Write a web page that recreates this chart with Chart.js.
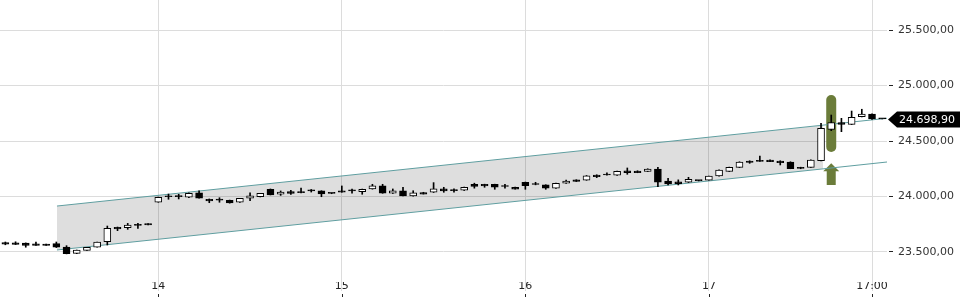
<!DOCTYPE html>
<html>
<head>
<meta charset="utf-8">
<script src="https://cdn.jsdelivr.net/npm/chart.js@4"></script>
<style>
  html, body { margin: 0; padding: 0; background: #fff; }
  #wrap { width: 960px; height: 300px; }
</style>
</head>
<body>
<div id="wrap"><canvas id="chart"></canvas></div>
<script>
// hourly candles, index 0 = leftmost candle
const opens = [
  23585, 23583, 23580, 23574, 23572, 23575, 23545, 23488, 23515, 23543,
  23593, 23722, 23720, 23740, 23757, 23948, 23998, 23999, 23993, 24034,
  23975, 23968, 23966, 23948, 23984, 23998, 24065, 24020, 24045, 24035,
  24050, 24050, 24028, 24050, 24050, 24043, 24068, 24097, 24029, 24050,
  24005, 24036, 24038, 24068, 24053, 24056, 24110, 24110, 24110, 24090,
  24083, 24128, 24108, 24104, 24074, 24119, 24150, 24148, 24194, 24194,
  24193, 24232, 24230, 24227, 24248, 24140, 24133, 24128, 24143, 24148,
  24185, 24227, 24263, 24320, 24326, 24328, 24320, 24311, 24262, 24263,
  24322, 24605, 24665, 24650, 24719, 24743, 24698.9
];
const highs = [
  23590, 23592, 23582, 23590, 23572, 23590, 23557, 23518, 23542, 23590,
  23734, 23725, 23758, 23758, 23757, 23995, 24022, 24020, 24032, 24052,
  23978, 23989, 23968, 23984, 24034, 24028, 24068, 24050, 24056, 24075,
  24063, 24052, 24031, 24095, 24067, 24067, 24110, 24110, 24068, 24083,
  24052, 24038, 24125, 24083, 24068, 24085, 24120, 24111, 24111, 24110,
  24084, 24130, 24128, 24106, 24121, 24149, 24151, 24189, 24196, 24214,
  24229, 24257, 24232, 24250, 24263, 24164, 24150, 24173, 24145, 24185,
  24241, 24265, 24313, 24322, 24365, 24330, 24322, 24313, 24264, 24330,
  24659, 24734, 24704, 24770, 24786, 24745, 24698.9
];
const lows = [
  23565, 23567, 23543, 23560, 23560, 23540, 23483, 23485, 23515, 23543,
  23563, 23692, 23704, 23713, 23745, 23948, 23975, 23978, 23990, 23984,
  23944, 23948, 23940, 23946, 23962, 23996, 24014, 24010, 24018, 24033,
  24040, 23998, 24025, 24038, 24029, 24020, 24066, 24029, 24027, 24005,
  24003, 24022, 24036, 24038, 24040, 24054, 24075, 24083, 24065, 24075,
  24065, 24065, 24105, 24065, 24072, 24117, 24135, 24146, 24170, 24192,
  24191, 24200, 24214, 24225, 24088, 24104, 24104, 24126, 24140, 24146,
  24183, 24225, 24261, 24299, 24315, 24313, 24284, 24250, 24250, 24261,
  24320, 24593, 24584, 24648, 24717, 24695, 24698.9
];
const closes = [
  23570, 23568, 23560, 23560, 23560, 23543, 23485, 23517, 23542, 23590,
  23713, 23707, 23743, 23740, 23745, 23993, 23998, 23999, 24029, 23984,
  23960, 23968, 23942, 23984, 24007, 24028, 24014, 24040, 24028, 24035,
  24050, 24023, 24028, 24040, 24050, 24065, 24097, 24029, 24050, 24005,
  24032, 24022, 24068, 24050, 24053, 24083, 24090, 24095, 24083, 24090,
  24065, 24097, 24108, 24074, 24119, 24140, 24135, 24187, 24178, 24194,
  24227, 24214, 24214, 24248, 24128, 24113, 24115, 24155, 24143, 24183,
  24239, 24263, 24311, 24308, 24317, 24313, 24305, 24250, 24252, 24328,
  24614, 24665, 24650, 24713, 24743, 24700, 24698.9
];

const xTickIdx = [15, 33, 51, 69, 85];
const xTickLabels = ['14', '15', '16', '17', '17:00'];
const yTicks = [23500, 24000, 24500, 25000, 25500];

// trend channel, x in candle index
const channelX = [5.06, 80.2, 86.5];
const channelUpper = [23914, 24643, 24705];
const channelLower = [23518, 24249, 24311];

const lastPrice = 24698.90;
const signalIdx = 81;
const signalBar = [24401, 24914];
const signalArrow = [24104, 24299];

const green = '#6b7c3a';
const teal = '#5f9ea0';

function fmt(v) {
  const parts = v.toFixed(2).split('.');
  return parts[0].replace(/\B(?=(\d{3})+(?!\d))/g, '.') + ',' + parts[1];
}

const pts = (xs, ys, n) => xs.slice(0, n).map((x, i) => ({ x: x, y: ys[i] }));

const signalPlugin = {
  id: 'signal',
  beforeDatasetsDraw(chart) {
    const { ctx, scales: { x, y } } = chart;
    const cx = x.getPixelForValue(signalIdx);
    ctx.save();
    ctx.fillStyle = green;
    const top = y.getPixelForValue(signalBar[1]);
    const bot = y.getPixelForValue(signalBar[0]);
    ctx.beginPath();
    ctx.roundRect(cx - 5, top, 10, bot - top, 5);
    ctx.fill();
    const tip = y.getPixelForValue(signalArrow[1]);
    const end = y.getPixelForValue(signalArrow[0]);
    ctx.beginPath();
    ctx.moveTo(cx, tip);
    ctx.lineTo(cx + 8, tip + 8);
    ctx.lineTo(cx + 4.5, tip + 8);
    ctx.lineTo(cx + 4.5, end);
    ctx.lineTo(cx - 4.5, end);
    ctx.lineTo(cx - 4.5, tip + 8);
    ctx.lineTo(cx - 8, tip + 8);
    ctx.closePath();
    ctx.fill();
    ctx.restore();
  },
  afterDraw(chart) {
    const { ctx, scales: { x, y } } = chart;
    ctx.save();
    // small dark tick marks under the time labels
    ctx.strokeStyle = '#222';
    ctx.lineWidth = 1;
    x.ticks.forEach(t => {
      const px = Math.round(x.getPixelForValue(t.value)) + 0.5;
      ctx.beginPath();
      ctx.moveTo(px, x.top + 12);
      ctx.lineTo(px, x.top + 15);
      ctx.stroke();
    });
    // last price label
    const py = Math.round(y.getPixelForValue(lastPrice)) + 0.5;
    const left = chart.chartArea.right + 1;
    ctx.fillStyle = '#000';
    ctx.beginPath();
    ctx.moveTo(left, py);
    ctx.lineTo(left + 9, py - 8);
    ctx.lineTo(chart.width, py - 8);
    ctx.lineTo(chart.width, py + 8);
    ctx.lineTo(left + 9, py + 8);
    ctx.closePath();
    ctx.fill();
    ctx.fillStyle = '#fff';
    ctx.font = '11px "DejaVu Sans"';
    ctx.textBaseline = 'middle';
    ctx.fillText(fmt(lastPrice), left + 11, py + 0.5);
    ctx.restore();
  }
};

Chart.defaults.font.family = '"DejaVu Sans"';
Chart.defaults.font.size = 11;
Chart.defaults.color = '#222';

new Chart(document.getElementById('chart'), {
  type: 'bar',
  data: {
    datasets: [
      {
        type: 'line',
        data: pts(channelX, channelUpper, 2),
        borderWidth: 0,
        pointRadius: 0,
        backgroundColor: 'rgba(0,0,0,0.13)',
        fill: '+1',
        order: 6
      },
      {
        type: 'line',
        data: pts(channelX, channelLower, 2),
        borderWidth: 0,
        pointRadius: 0,
        fill: false,
        order: 6
      },
      {
        type: 'line',
        data: pts(channelX, channelUpper, 3),
        borderColor: teal,
        borderWidth: 1,
        pointRadius: 0,
        fill: false,
        order: 4
      },
      {
        type: 'line',
        data: pts(channelX, channelLower, 3),
        borderColor: teal,
        borderWidth: 1,
        pointRadius: 0,
        fill: false,
        order: 4
      },
      {
        // wicks
        data: lows.map((l, i) => ({ x: i, y: [l, highs[i]] })),
        backgroundColor: '#000',
        borderWidth: 0,
        barThickness: 1,
        grouped: false,
        order: 2
      },
      {
        // bodies
        data: opens.map((o, i) => ({ x: i, y: [o, closes[i]] })),
        backgroundColor: opens.map((o, i) => closes[i] > o ? '#fff' : '#000'),
        borderColor: '#000',
        borderWidth: 1,
        borderSkipped: false,
        barThickness: 7,
        minBarLength: 1,
        grouped: false,
        order: 1
      }
    ]
  },
  options: {
    responsive: true,
    maintainAspectRatio: false,
    animation: false,
    layout: { padding: 0 },
    plugins: {
      legend: { display: false },
      tooltip: { enabled: false }
    },
    scales: {
      x: {
        type: 'linear',
        min: -0.526,
        max: 86.47,
        offset: false,
        grid: {
          offset: false,
          color: '#dcdcdc',
          tickColor: '#dcdcdc',
          tickLength: 9
        },
        border: { display: false },
        afterBuildTicks: (scale) => {
          scale.ticks = xTickIdx.map(v => ({ value: v }));
        },
        afterFit: (scale) => {
          scale.height = 18;
          scale.paddingLeft = 0;
          scale.paddingRight = 0;
        },
        ticks: {
          autoSkip: false,
          maxRotation: 0,
          padding: -11,
          callback: (v, i) => xTickLabels[i]
        }
      },
      y: {
        position: 'right',
        min: 23229.7,
        max: 25770.3,
        grid: {
          color: '#dcdcdc',
          tickColor: '#222',
          tickLength: 6,
          tickBorderDash: [0, 2, 4]
        },
        border: { display: false },
        afterBuildTicks: (scale) => {
          scale.ticks = yTicks.map(v => ({ value: v }));
        },
        afterFit: (scale) => {
          scale.width = 73;
          scale.paddingTop = 0;
          scale.paddingBottom = 0;
        },
        ticks: {
          padding: 5,
          color: '#333',
          callback: (v) => fmt(v)
        }
      }
    }
  },
  plugins: [signalPlugin]
});
</script>
</body>
</html>
